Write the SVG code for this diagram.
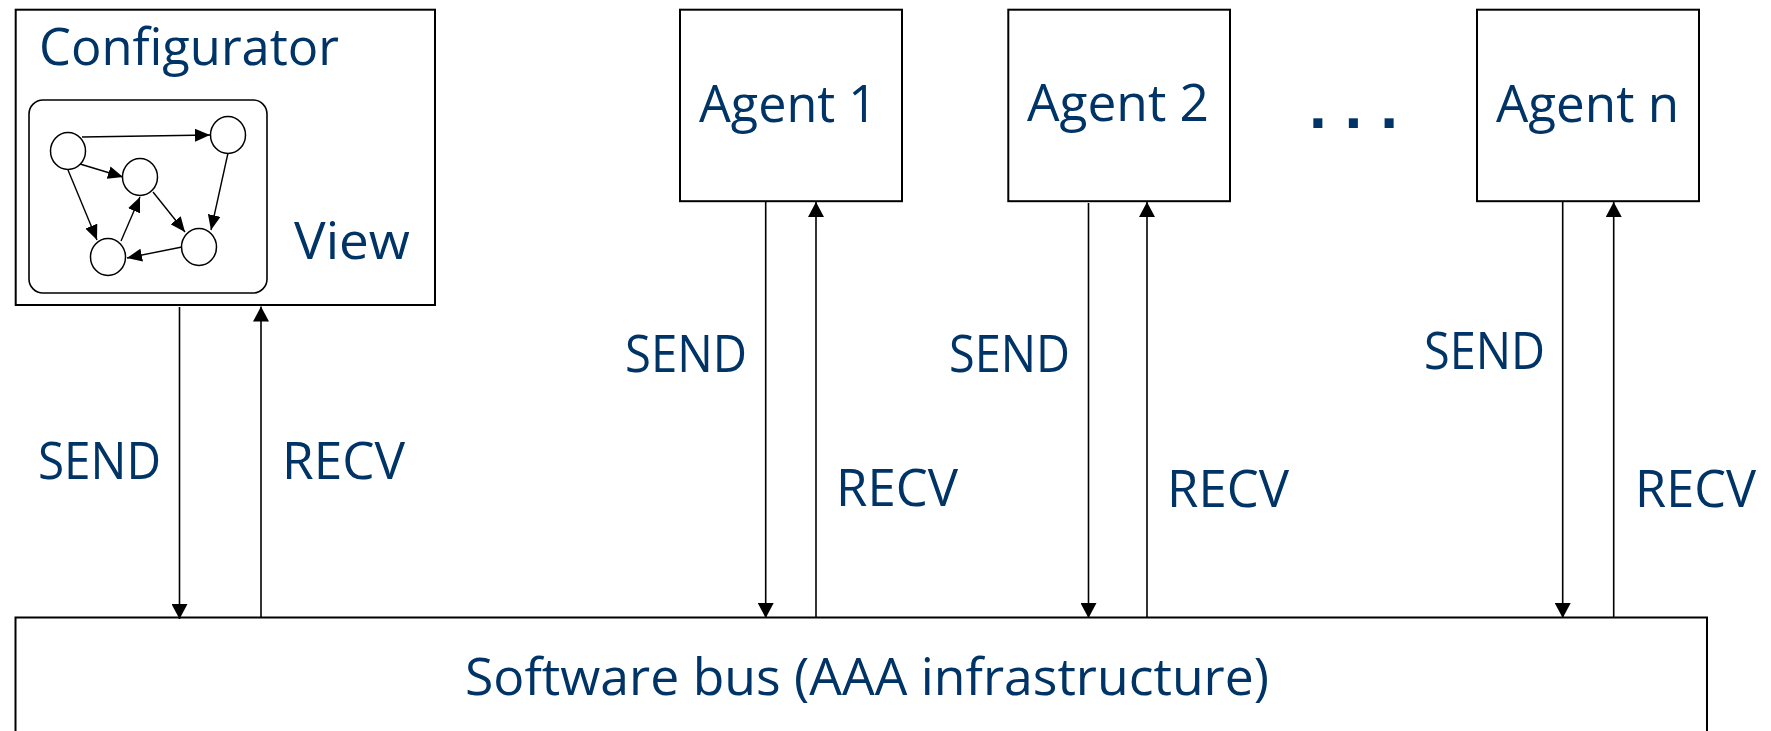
<svg xmlns="http://www.w3.org/2000/svg" width="1771" height="731" viewBox="0 0 1771 731">
  <style>
    .box { fill: #ffffff; stroke: #000000; stroke-width: 2; }
    .view { fill: none; stroke: #000000; stroke-width: 1.6; }
    .dot { fill: #ffffff; stroke: #000000; stroke-width: 1.5; }
    .lbl { font-family: "Open Sans", "Liberation Sans", Arial, sans-serif; font-size: 52px; fill: #003466; }
    .dots { font-family: "Liberation Sans", Arial, sans-serif; font-size: 64px; font-weight: bold; fill: #003466; }
    .wire { stroke: #000000; stroke-width: 1.6; fill: none; marker-end: url(#head); }
    .edge { stroke: #000000; stroke-width: 1.4; fill: none; marker-end: url(#small); }
  </style>
  <defs>
    <marker id="head" viewBox="0 0 15 16" refX="15" refY="8" markerWidth="15" markerHeight="16" markerUnits="userSpaceOnUse" orient="auto">
      <path d="M0,0 L15,8 L0,16 z" fill="#000000"/>
    </marker>
    <marker id="small" viewBox="0 0 15 13" refX="15" refY="6.5" markerWidth="15" markerHeight="13" markerUnits="userSpaceOnUse" orient="auto">
      <path d="M0,0 L15,6.5 L0,13 z" fill="#000000"/>
    </marker>
  </defs>

  <rect width="1771" height="731" fill="#ffffff"/>

  <!-- Bus along the bottom edge -->
  <g id="bus">
    <rect class="box" x="15.5" y="617.5" width="1691.5" height="200"/>
    <text class="lbl" x="465" y="695" textLength="804" lengthAdjust="spacingAndGlyphs">Software bus (AAA infrastructure)</text>
  </g>

  <!-- Configurator with its embedded graph view -->
  <g id="configurator">
    <rect class="box" x="15.7" y="9.7" width="419.3" height="295.3"/>
    <text class="lbl" x="39" y="65" textLength="300" lengthAdjust="spacingAndGlyphs">Configurator</text>
    <rect class="view" x="29" y="100" width="238" height="193" rx="14" ry="14"/>
    <text class="lbl" x="294" y="259" textLength="116" lengthAdjust="spacingAndGlyphs">View</text>
    <g id="view-graph">
      <line class="edge" x1="82" y1="137" x2="210" y2="135"/>
      <line class="edge" x1="80" y1="164" x2="123" y2="177"/>
      <line class="edge" x1="68" y1="170" x2="97" y2="240"/>
      <line class="edge" x1="228" y1="153" x2="211" y2="230"/>
      <line class="edge" x1="153" y1="192" x2="185" y2="232"/>
      <line class="edge" x1="121" y1="241" x2="140" y2="197"/>
      <line class="edge" x1="182" y1="247" x2="127" y2="258"/>
      <ellipse class="dot" cx="68" cy="151" rx="17.5" ry="18.5"/>
      <ellipse class="dot" cx="228" cy="135" rx="17.5" ry="18.5"/>
      <ellipse class="dot" cx="140" cy="177" rx="17.5" ry="18.5"/>
      <ellipse class="dot" cx="108" cy="257" rx="17.5" ry="18.5"/>
      <ellipse class="dot" cx="199" cy="247" rx="17.5" ry="18.5"/>
    </g>
  </g>

  <g id="agent1">
    <rect class="box" x="680" y="9.7" width="222" height="191.5"/>
    <text class="lbl" x="699" y="122" textLength="178" lengthAdjust="spacingAndGlyphs">Agent 1</text>
  </g>

  <g id="agent2">
    <rect class="box" x="1008.3" y="9.7" width="221.7" height="191.5"/>
    <text class="lbl" x="1027" y="121" textLength="182" lengthAdjust="spacingAndGlyphs">Agent 2</text>
  </g>

  <g id="ellipsis">
    <text class="dots" x="1309" y="127.5">. . .</text>
  </g>

  <g id="agentn">
    <rect class="box" x="1477" y="9.7" width="222" height="191.5"/>
    <text class="lbl" x="1496" y="122" textLength="183" lengthAdjust="spacingAndGlyphs">Agent n</text>
  </g>

  <!-- SEND / RECV links between components and the bus -->
  <g id="connectors">
    <line class="wire" x1="179.5" y1="307" x2="179.5" y2="619"/>
    <line class="wire" x1="261" y1="617.5" x2="261" y2="306.5"/>
    <line class="wire" x1="765.7" y1="201.5" x2="765.7" y2="618"/>
    <line class="wire" x1="816" y1="617.5" x2="816" y2="202"/>
    <line class="wire" x1="1088.5" y1="203" x2="1088.5" y2="618"/>
    <line class="wire" x1="1147" y1="617.5" x2="1147" y2="202"/>
    <line class="wire" x1="1562.7" y1="201.5" x2="1562.7" y2="618"/>
    <line class="wire" x1="1613.7" y1="617.5" x2="1613.7" y2="202"/>
  </g>

  <g id="link-labels">
    <text class="lbl" x="38" y="479" textLength="123" lengthAdjust="spacingAndGlyphs">SEND</text>
    <text class="lbl" x="282" y="479" textLength="123" lengthAdjust="spacingAndGlyphs">RECV</text>
    <text class="lbl" x="625" y="372" textLength="122" lengthAdjust="spacingAndGlyphs">SEND</text>
    <text class="lbl" x="836" y="506" textLength="122" lengthAdjust="spacingAndGlyphs">RECV</text>
    <text class="lbl" x="949" y="372" textLength="121" lengthAdjust="spacingAndGlyphs">SEND</text>
    <text class="lbl" x="1167" y="507" textLength="122" lengthAdjust="spacingAndGlyphs">RECV</text>
    <text class="lbl" x="1424" y="369" textLength="121" lengthAdjust="spacingAndGlyphs">SEND</text>
    <text class="lbl" x="1635" y="507" textLength="121" lengthAdjust="spacingAndGlyphs">RECV</text>
  </g>
</svg>
